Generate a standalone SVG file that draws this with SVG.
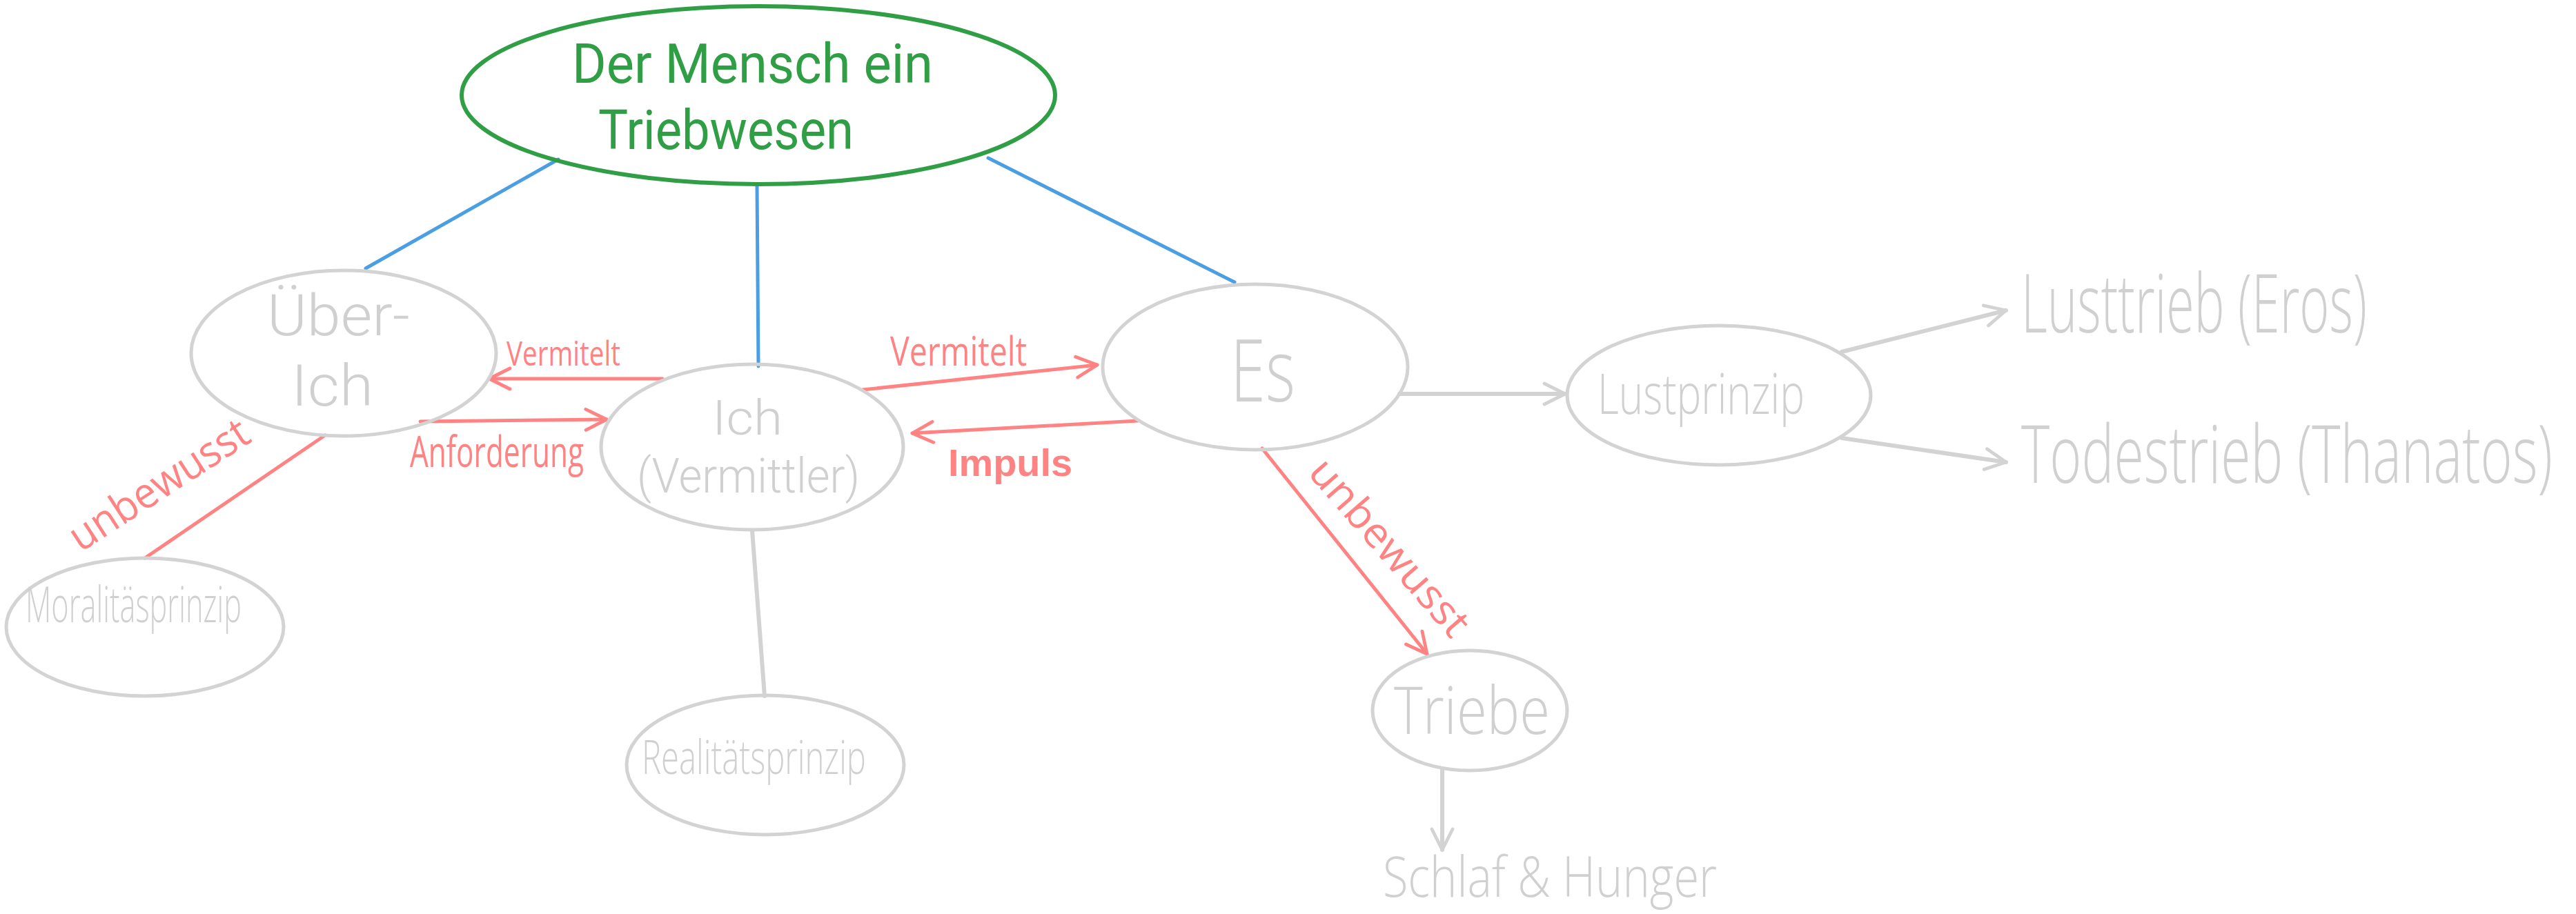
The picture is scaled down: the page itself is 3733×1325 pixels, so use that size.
<svg xmlns="http://www.w3.org/2000/svg" width="3733" height="1325" viewBox="0 0 3733 1325">
<defs>
<style>
.bg{fill:#ffffff}
.node{fill:none;stroke:#d3d3d3;stroke-width:5}
.main{fill:none;stroke:#2f9e44;stroke-width:6}
.gt{fill:#d0d0d0;font-family:"Open Sans","Liberation Sans",sans-serif;font-weight:300}
.gr{fill:#d0d0d0;font-family:Roboto,"Liberation Sans",sans-serif;font-weight:300}
.green{fill:#2f9e44;font-family:Roboto,"Liberation Sans",sans-serif;font-weight:400}
.rt{fill:#ff8383;font-family:"Open Sans","Liberation Sans",sans-serif;font-weight:400}
.rb{fill:#ff8383;font-family:"Liberation Sans",sans-serif;font-weight:700}
.blue{stroke:#4a9fe4;stroke-width:5;fill:none;stroke-linecap:round}
.gray{stroke:#d3d3d3;stroke-width:6;fill:none;stroke-linecap:round}
.red{stroke:#ff8383;stroke-width:5;fill:none;stroke-linecap:round}
</style>
<marker id="ar" viewBox="0 0 12 12" refX="11" refY="6" markerWidth="36" markerHeight="36" markerUnits="userSpaceOnUse" orient="auto">
<path d="M1,1 L11,6 L1,11" fill="none" stroke="#ff8383" stroke-width="1.6" stroke-linecap="round" stroke-linejoin="round"/>
</marker>
<marker id="ag" viewBox="0 0 12 12" refX="11" refY="6" markerWidth="36" markerHeight="36" markerUnits="userSpaceOnUse" orient="auto">
<path d="M1,1 L11,6 L1,11" fill="none" stroke="#d3d3d3" stroke-width="1.6" stroke-linecap="round" stroke-linejoin="round"/>
</marker>
</defs>
<rect class="bg" x="0" y="0" width="3733" height="1325"/>

<g id="connectors">
<line class="blue" x1="809" y1="231" x2="530" y2="389"/>
<line class="blue" x1="1097" y1="268" x2="1099" y2="531"/>
<line class="blue" x1="1432" y1="229" x2="1789" y2="409"/>
<line class="red" x1="960" y1="549" x2="709" y2="549" marker-end="url(#ar)"/>
<line class="red" x1="609" y1="611" x2="879" y2="608" marker-end="url(#ar)"/>
<line class="red" x1="1250" y1="565" x2="1590" y2="529" marker-end="url(#ar)"/>
<line class="red" x1="1649" y1="610" x2="1322" y2="628" marker-end="url(#ar)"/>
<line class="red" x1="1829" y1="650" x2="2068" y2="948" marker-end="url(#ar)"/>
<line class="red" x1="471" y1="631" x2="210" y2="809"/>
<line class="gray" x1="1090" y1="769" x2="1108" y2="1009"/>
<line class="gray" x1="2028" y1="571" x2="2268" y2="571" marker-end="url(#ag)"/>
<line class="gray" x1="2669" y1="510" x2="2907" y2="450" marker-end="url(#ag)"/>
<line class="gray" x1="2669" y1="635" x2="2907" y2="670" marker-end="url(#ag)"/>
<line class="gray" x1="2090" y1="1116" x2="2090" y2="1232" marker-end="url(#ag)"/>
<text class="rt" x="734" y="530" font-size="50" textLength="165" lengthAdjust="spacingAndGlyphs">Vermitelt</text>
<text class="rt" x="594" y="677" font-size="62" textLength="252" lengthAdjust="spacingAndGlyphs">Anforderung</text>
<text class="rt" x="1290" y="530" font-size="58" textLength="198" lengthAdjust="spacingAndGlyphs">Vermitelt</text>
<text class="rb" x="1374" y="690" font-size="56" textLength="180" lengthAdjust="spacingAndGlyphs">Impuls</text>
<text class="rt" transform="translate(2012,795) rotate(49)" text-anchor="middle" y="18" font-size="60" textLength="320" lengthAdjust="spacingAndGlyphs">unbewusst</text>
<text class="rt" transform="translate(232,705) rotate(-33)" text-anchor="middle" y="18" font-size="62" textLength="298" lengthAdjust="spacingAndGlyphs">unbewusst</text>
</g>

<g id="main">
<ellipse class="main" cx="1099" cy="138" rx="430" ry="129"/>
<text class="green" x="829" y="120" font-size="80" textLength="523" lengthAdjust="spacingAndGlyphs">Der Mensch ein</text>
<text class="green" x="867" y="216" font-size="80" textLength="370" lengthAdjust="spacingAndGlyphs">Triebwesen</text>
</g>

<g id="ueber-ich">
<ellipse class="node" cx="498" cy="512" rx="221" ry="120"/>
<text class="gr" x="387" y="486" font-size="84" textLength="207" lengthAdjust="spacingAndGlyphs">Über-</text>
<text class="gr" x="422" y="588" font-size="84" textLength="119" lengthAdjust="spacingAndGlyphs">Ich</text>
</g>

<g id="ich">
<ellipse class="node" cx="1090" cy="648" rx="219" ry="120"/>
<text class="gr" x="1032" y="630" font-size="70" textLength="102" lengthAdjust="spacingAndGlyphs">Ich</text>
<text class="gr" x="923" y="714" font-size="70" textLength="323" lengthAdjust="spacingAndGlyphs">(Vermittler)</text>
</g>

<g id="es">
<ellipse class="node" cx="1819" cy="532" rx="221" ry="120"/>
<text class="gt" x="1783" y="582" font-size="125" textLength="94" lengthAdjust="spacingAndGlyphs">Es</text>
</g>

<g id="lustprinzip">
<ellipse class="node" cx="2491" cy="573" rx="220" ry="101"/>
<text class="gt" x="2315" y="600" font-size="82" textLength="300" lengthAdjust="spacingAndGlyphs">Lustprinzip</text>
</g>

<g id="lusttrieb">
<text class="gt" x="2929" y="482" font-size="118" textLength="501" lengthAdjust="spacingAndGlyphs">Lusttrieb (Eros)</text>
</g>

<g id="todestrieb">
<text class="gt" transform="translate(2929,700) scale(0.63,1)" x="0" y="0" font-size="116" textLength="1222" lengthAdjust="spacingAndGlyphs">Todestrieb (Thanatos)</text>
</g>

<g id="triebe">
<ellipse class="node" cx="2130" cy="1030" rx="141" ry="87"/>
<text class="gt" x="2020" y="1064" font-size="96" textLength="226" lengthAdjust="spacingAndGlyphs">Triebe</text>
</g>

<g id="schlaf-hunger">
<text class="gt" x="2004" y="1300" font-size="82" textLength="484" lengthAdjust="spacingAndGlyphs">Schlaf &amp; Hunger</text>
</g>

<g id="moralitaetsprinzip">
<ellipse class="node" cx="210" cy="909" rx="201" ry="100"/>
<text class="gt" x="37" y="902" font-size="72" textLength="313" lengthAdjust="spacingAndGlyphs">Moralitäsprinzip</text>
</g>

<g id="realitaetsprinzip">
<ellipse class="node" cx="1109" cy="1109" rx="201" ry="101"/>
<text class="gt" x="930" y="1122" font-size="68" textLength="325" lengthAdjust="spacingAndGlyphs">Realitätsprinzip</text>
</g>
</svg>
